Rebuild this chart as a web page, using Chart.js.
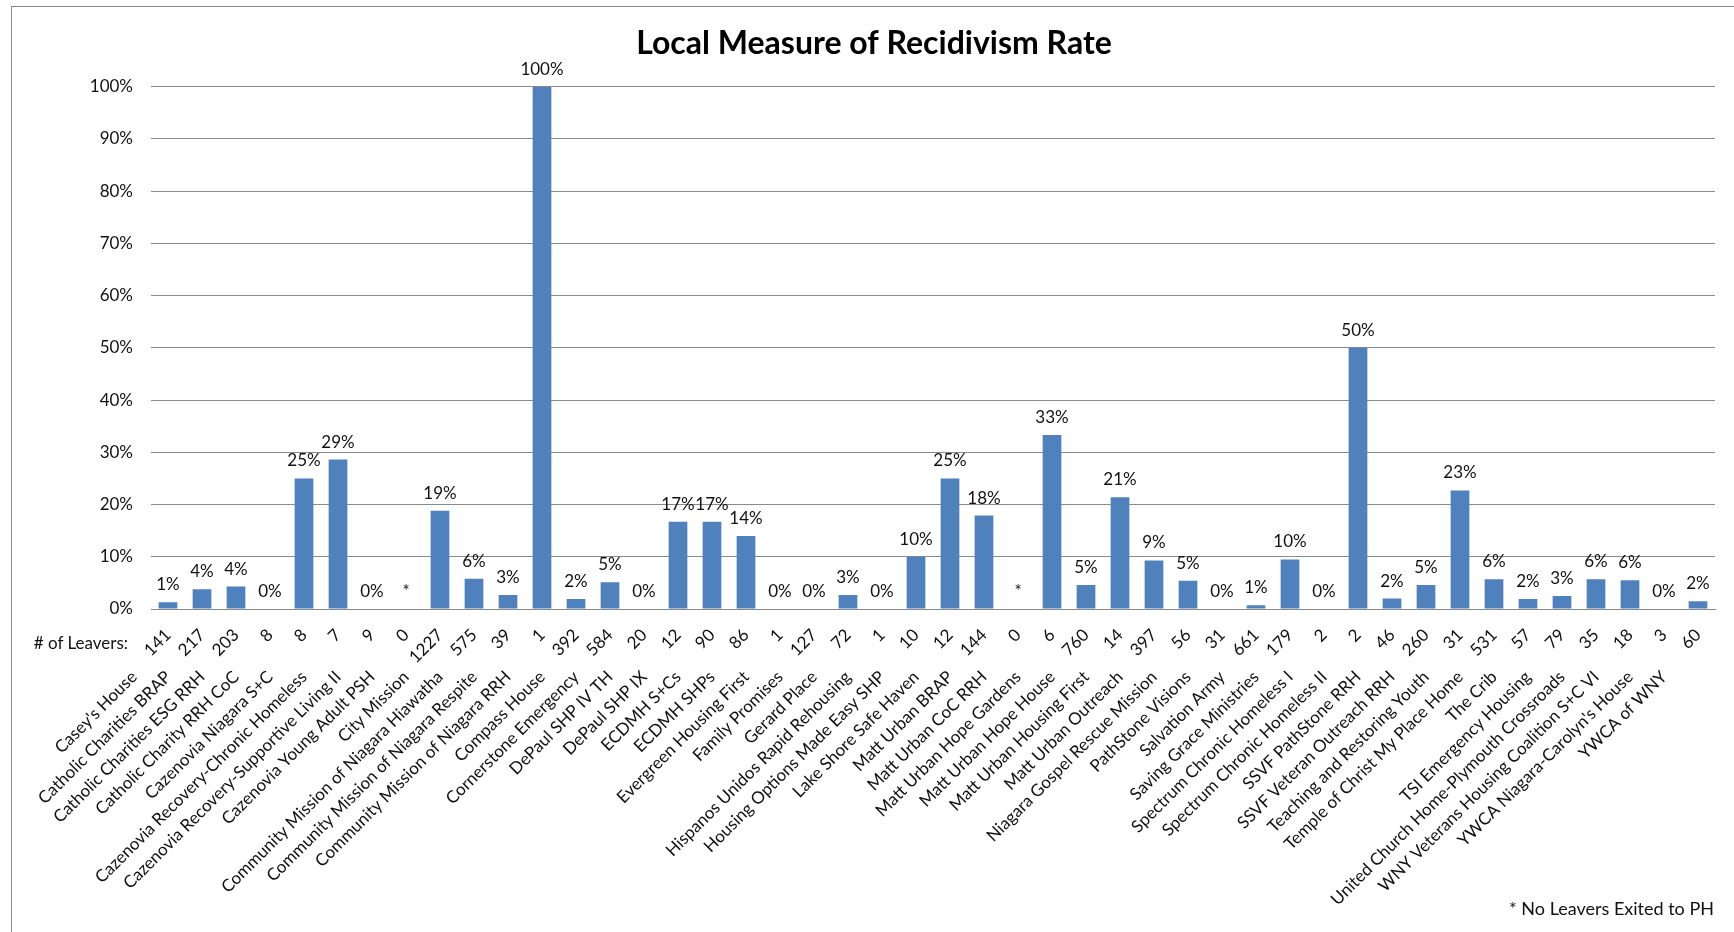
<!DOCTYPE html>
<html>
<head>
<meta charset="utf-8">
<title>Local Measure of Recidivism Rate</title>
<script src="https://cdn.jsdelivr.net/npm/chart.js@4.4.1/dist/chart.umd.min.js"></script>
<style>
  html, body { margin: 0; padding: 0; background: #fff; }
  #wrap { position: relative; width: 1734px; height: 932px; overflow: hidden; }
  #frame { position: absolute; left: 11px; top: 6px; width: 1800px; height: 1000px;
           border-top: 1px solid #888; border-left: 1px solid #888; }
  #chart { position: absolute; left: 0; top: 0; }
  .note { position: absolute; font-family: Lato, sans-serif; font-size: 17px; line-height: 20px; color: #111; white-space: nowrap; }
  #leavers { right: 1606px; top: 633px; }
  #footnote { right: 20px; top: 898px; font-size: 18px; }
</style>
</head>
<body>
<div id="wrap">
  <div id="frame"></div>
  <canvas id="chart" width="1734" height="932"></canvas>
  <div class="note" id="leavers"># of Leavers:</div>
  <div class="note" id="footnote">* No Leavers Exited to PH</div>
</div>
<script>
// Local Measure of Recidivism Rate, one bar per program

const programs = [
  "Casey's House", "Catholic Charities BRAP", "Catholic Charities ESG RRH", "Catholic Charity RRH CoC",
  "Cazenovia Niagara S+C", "Cazenovia Recovery-Chronic Homeless", "Cazenovia Recovery-Supportive Living II",
  "Cazenovia Young Adult PSH", "City Mission", "Community Mission of Niagara Hiawatha",
  "Community Mission of Niagara Respite", "Community Mission of Niagara RRH", "Compass House",
  "Cornerstone Emergency", "DePaul SHP IV TH", "DePaul SHP IX", "ECDMH S+Cs", "ECDMH SHPs",
  "Evergreen Housing First", "Family Promises", "Gerard Place", "Hispanos Unidos Rapid Rehousing",
  "Housing Options Made Easy SHP", "Lake Shore Safe Haven", "Matt Urban BRAP", "Matt Urban CoC RRH",
  "Matt Urban Hope Gardens", "Matt Urban Hope House", "Matt Urban Housing First", "Matt Urban Outreach",
  "Niagara Gospel Rescue Mission", "PathStone Visions", "Salvation Army", "Saving Grace Ministries",
  "Spectrum Chronic Homeless I", "Spectrum Chronic Homeless II", "SSVF PathStone RRH",
  "SSVF Veteran Outreach RRH", "Teaching and Restoring Youth", "Temple of Christ My Place Home",
  "The Crib", "TSI Emergency Housing", "United Church Home-Plymouth Crossroads",
  "WNY Veterans Housing Coalition S+C VI", "YWCA Niagara-Carolyn's House", "YWCA of WNY"
];

const leavers = [
  141, 217, 203, 8, 8, 7, 9, 0, 1227, 575, 39, 1, 392, 584, 20, 12,
  90, 86, 1, 127, 72, 1, 10, 12, 144, 0, 6, 760, 14, 397, 56, 31,
  661, 179, 2, 2, 46, 260, 31, 531, 57, 79, 35, 18, 3, 60
];

// recidivism rate in percent, null = no leavers exited to PH (shown as *)
const rates = [
  1.3, 3.8, 4.3, 0, 25, 28.6, 0, null, 18.8, 5.8, 2.7, 100, 1.9, 5.1, 0, 16.7,
  16.7, 14.0, 0, 0, 2.7, 0, 10, 25, 17.9, null, 33.3, 4.6, 21.4, 9.3, 5.4, 0,
  0.7, 9.5, 0, 50, 2.0, 4.6, 22.7, 5.7, 1.9, 2.5, 5.7, 5.5, 0, 1.5
];

const yTicks = [0, 10, 20, 30, 40, 50, 60, 70, 80, 90, 100];

const BAR_COLOR = "#4F81BD";
const GRID_COLOR = "#8a8a8a";
const TEXT_COLOR = "#111";
const NAME_GAP = " ".repeat(11); // pushes names back along the slant, below the counts

Chart.defaults.font.family = "Lato, 'Open Sans', sans-serif";
Chart.defaults.font.size = 17;
Chart.defaults.color = TEXT_COLOR;

// percent labels above the bars, "*" where there is no rate
const valueLabels = {
  id: "valueLabels",
  afterDatasetsDraw(chart) {
    const ctx = chart.ctx;
    const x = chart.scales.x;
    const y = chart.scales.y;
    ctx.save();
    ctx.font = "17px Lato, sans-serif";
    ctx.fillStyle = TEXT_COLOR;
    ctx.textAlign = "center";
    ctx.textBaseline = "alphabetic";
    rates.forEach((v, i) => {
      const px = x.getPixelForValue(i);
      const top = v === null ? y.getPixelForValue(0) : y.getPixelForValue(v);
      const label = v === null ? "*" : Math.round(v) + "%";
      ctx.fillText(label, px, top - 12);
    });
    ctx.restore();
  }
};

const ctx = document.getElementById("chart").getContext("2d");
new Chart(ctx, {
  type: "bar",
  data: {
    labels: leavers.map(String),
    datasets: [
      {
        label: "Recidivism rate",
        data: rates,
        backgroundColor: BAR_COLOR,
        borderWidth: 0,
        barPercentage: 0.55,
        categoryPercentage: 1,
        xAxisID: "x",
        yAxisID: "y"
      }
    ]
  },
  options: {
    responsive: false,
    animation: false,
    devicePixelRatio: 1,
    layout: { padding: { left: 33, right: 19, top: 0, bottom: 27 } },
    plugins: {
      legend: { display: false },
      tooltip: { enabled: false },
      title: {
        display: true,
        text: "Local Measure of Recidivism Rate",
        color: "#000",
        font: { size: 32, weight: "bold" },
        padding: { top: 24.4, bottom: 23.9 }
      }
    },
    scales: {
      x: {
        position: "bottom",
        grid: { display: false, drawTicks: false },
        border: { display: true, color: GRID_COLOR, width: 1 },
        ticks: { autoSkip: false, minRotation: 45, maxRotation: 45, padding: 16 },
        afterFit: (scale) => { scale.height = 55; }
      },
      x2: {
        type: "category",
        labels: programs,
        position: "bottom",
        offset: true,
        grid: { display: false, drawTicks: false },
        border: { display: false },
        ticks: {
          autoSkip: false,
          minRotation: 45,
          maxRotation: 45,
          padding: -31,
          callback: (value, index) => programs[index] + NAME_GAP
        },
        afterFit: (scale) => { scale.height = 241; }
      },
      y: {
        min: 0,
        max: 100,
        afterBuildTicks: (scale) => { scale.ticks = yTicks.map((v) => ({ value: v })); },
        ticks: { padding: 18, callback: (v) => v + "%" },
        grid: { color: GRID_COLOR, drawTicks: false },
        border: { display: false },
        afterFit: (scale) => { scale.width = 118; }
      }
    }
  },
  plugins: [valueLabels]
});
</script>
</body>
</html>
